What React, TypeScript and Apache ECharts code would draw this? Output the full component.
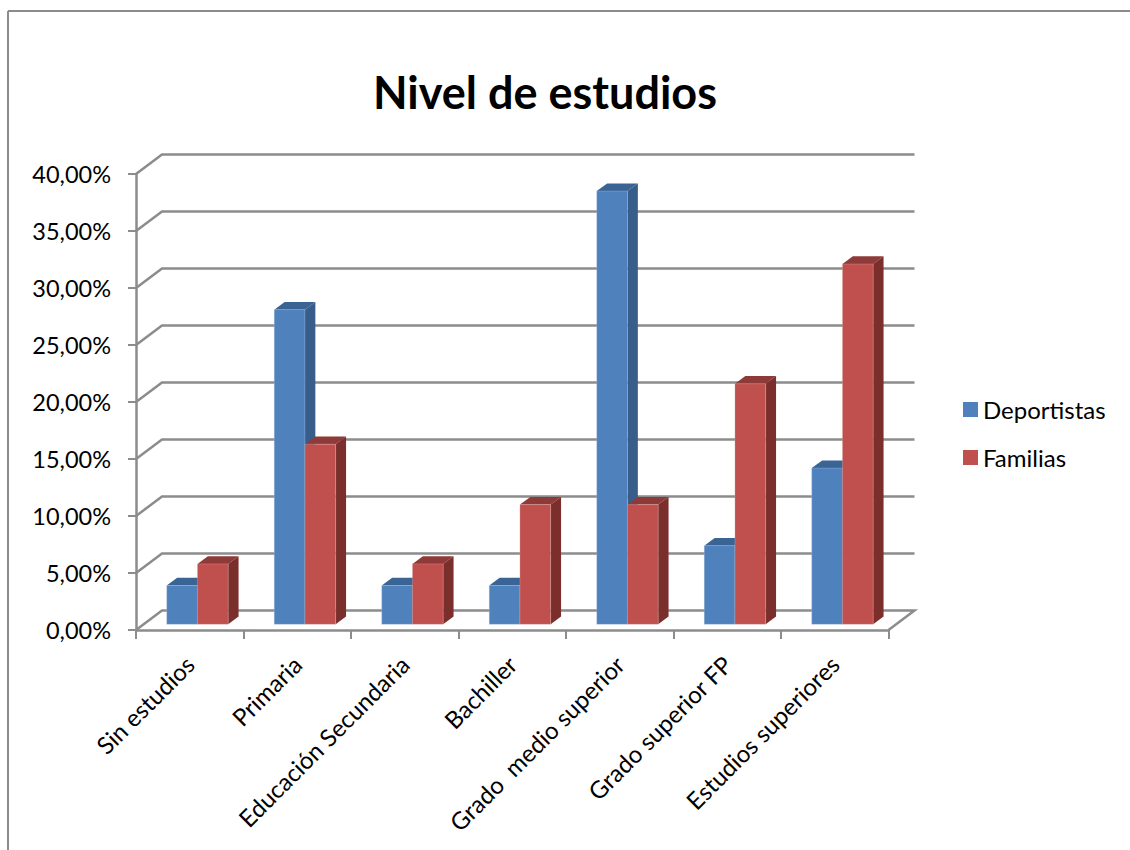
import React, { useEffect, useRef } from "react";
import * as echarts from "echarts";

const categories = [
  "Sin estudios",
  "Primaria",
  "Educación Secundaria",
  "Bachiller",
  "Grado  medio superior",
  "Grado superior FP",
  "Estudios superiores",
];
const deportistas = [3.4, 27.6, 3.4, 3.4, 38.0, 6.9, 13.7];
const familias = [5.3, 15.8, 5.3, 10.5, 10.5, 21.1, 31.6];
const yTicks = [0, 5, 10, 15, 20, 25, 30, 35, 40];

const FONT = "Lato, 'Open Sans', sans-serif";
const GRAY = "#8c8c8c";
const TEXT = "#000000";
const WALL_DX = 26;
const WALL_DY = 19.5;
const BAR_GAP_DX = 7.7;
const BAR_GAP_DY = 5.7;
const BAR_DX = 10.4;
const BAR_DY = 7.7;
const BAR_SHARE = 0.2857;

function wallRenderer(params: any, api: any) {
  const tick = api.value(1);
  const p = api.coord([0, tick]);
  const band = api.size([1, 0])[0];
  const x0 = p[0] - band / 2;
  const x1 = x0 + band * categories.length;
  const y = p[1];
  const pts: number[][] = [
    [x0, y],
    [x0 + WALL_DX, y - WALL_DY],
    [x1 + WALL_DX, y - WALL_DY],
  ];
  if (tick === 0) pts.push([x1, y]);
  return {
    type: "polyline",
    shape: { points: pts },
    style: { stroke: GRAY, lineWidth: 2.5, fill: "none" },
    silent: true,
  };
}

function barRenderer(side: number, front: string, sideCol: string, topCol: string, edge: string) {
  return (params: any, api: any) => {
    const i = api.value(0);
    const v = api.value(1);
    const top = api.coord([i, v]);
    const base = api.coord([i, 0]);
    const band = api.size([1, 0])[0];
    const w = band * BAR_SHARE;
    const cx = top[0] + BAR_GAP_DX;
    const xL = side < 0 ? cx - w : cx;
    const xR = xL + w;
    const yT = top[1] - BAR_GAP_DY;
    const yB = base[1] - BAR_GAP_DY;
    return {
      type: "group",
      children: [
        {
          type: "polygon",
          shape: { points: [[xL, yT], [xR, yT], [xR + BAR_DX, yT - BAR_DY], [xL + BAR_DX, yT - BAR_DY]] },
          style: { fill: topCol },
        },
        {
          type: "polygon",
          shape: { points: [[xR, yT], [xR + BAR_DX, yT - BAR_DY], [xR + BAR_DX, yB - BAR_DY], [xR, yB]] },
          style: { fill: sideCol },
        },
        {
          type: "rect",
          shape: { x: xL, y: yT, width: w, height: yB - yT },
          style: { fill: front, stroke: edge, lineWidth: 1 },
        },
      ],
    };
  };
}

export default function App() {
  const ref = useRef<HTMLDivElement>(null);
  useEffect(() => {
    const chart = echarts.init(ref.current!, undefined, { renderer: "svg" });
    chart.setOption({
      animation: false,
      backgroundColor: "#ffffff",
      title: {
        text: "Nivel de estudios",
        left: 540,
        textAlign: "center",
        top: 64,
        textStyle: { fontFamily: FONT, fontSize: 45, fontWeight: "bold", color: TEXT },
      },
      legend: {
        orient: "vertical",
        left: 958,
        top: 391,
        itemWidth: 15,
        itemHeight: 15,
        itemGap: 21,
        icon: "rect",
        data: ["Deportistas", "Familias"],
        textStyle: { fontFamily: FONT, fontSize: 24, color: TEXT, lineHeight: 27 },
      },
      grid: { left: 136, top: 174, width: 752.5, height: 456 },
      xAxis: {
        type: "category",
        data: categories,
        boundaryGap: true,
        axisLine: { lineStyle: { color: GRAY, width: 2.5 } },
        axisTick: { show: true, length: 9, alignWithLabel: false, lineStyle: { color: GRAY, width: 2 } },
        axisLabel: {
          interval: 0,
          rotate: 45,
          margin: 30,
          fontFamily: FONT,
          fontSize: 24,
          color: TEXT,
        },
      },
      yAxis: {
        type: "value",
        min: 0,
        max: 40,
        interval: 5,
        axisLine: { show: true, lineStyle: { color: GRAY, width: 2.5 } },
        axisTick: { show: true, length: 8, lineStyle: { color: GRAY, width: 2 } },
        splitLine: { show: false },
        axisLabel: {
          margin: 25,
          fontFamily: FONT,
          fontSize: 23.5,
          color: TEXT,
          formatter: (v: number) => v.toFixed(2).replace(".", ",") + "%",
        },
      },
      graphic: [
        { type: "line", shape: { x1: 8, y1: 11, x2: 1130, y2: 11 }, style: { stroke: GRAY, lineWidth: 2 } },
        { type: "line", shape: { x1: 8, y1: 11, x2: 8, y2: 850 }, style: { stroke: GRAY, lineWidth: 2 } },
      ],
      series: [
        {
          type: "custom",
          name: "wall",
          silent: true,
          z: 1,
          renderItem: wallRenderer,
          encode: { x: 0, y: 1 },
          data: yTicks.map((t) => [0, t]),
        },
        {
          type: "custom",
          name: "Deportistas",
          z: 2,
          itemStyle: { color: "#4F81BD" },
          renderItem: barRenderer(-1, "#4F81BD", "#385D8A", "#3A6494", "rgba(181,203,229,0.3)"),
          encode: { x: 0, y: 1 },
          data: deportistas.map((v, i) => [i, v]),
        },
        {
          type: "custom",
          name: "Familias",
          z: 3,
          itemStyle: { color: "#C0504D" },
          renderItem: barRenderer(1, "#C0504D", "#7B2F2D", "#8E3A38", "rgba(230,184,183,0.3)"),
          encode: { x: 0, y: 1 },
          data: familias.map((v, i) => [i, v]),
        },
      ],
    });
    return () => chart.dispose();
  }, []);
  return <div ref={ref} style={{ position: "absolute", left: 0, top: 0, width: 1130, height: 850 }} />;
}
